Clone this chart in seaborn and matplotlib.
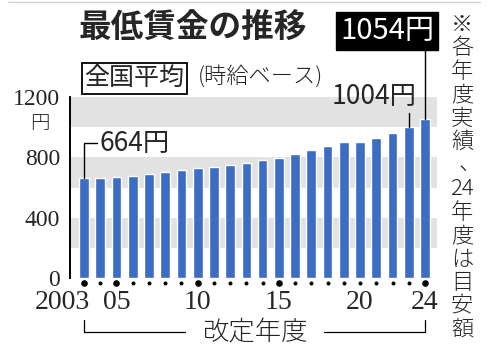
import matplotlib
matplotlib.use("Agg")
import matplotlib.pyplot as plt
import matplotlib.transforms as mtransforms
from matplotlib.lines import Line2D
import seaborn as sns
import pandas as pd

# national average minimum wage (yen/hour), revision year
years = list(range(2003, 2025))
wages = [664, 665, 668, 673, 687, 703, 713, 730, 737, 749, 764,
         780, 798, 823, 848, 874, 901, 902, 930, 961, 1004, 1054]
year_labels = {2003: "2003", 2005: "05", 2010: "10", 2015: "15", 2020: "20", 2024: "24"}
big_dots = [2003, 2005, 2010, 2015, 2024]
y_ticks = [0, 400, 800, 1200]
note = ["※", "各", "年", "度", "実", "績", "、", "24", "年", "度", "は", "目", "安", "額"]

BLUE = "#3c6cc4"
GREY = "#e2e2e2"
JP = ["Noto Sans CJK JP", "DejaVu Sans"]
SERIF = ["Liberation Serif", "DejaVu Serif"]

W, H = 500, 351


def px(x, y):
    return x / W, 1 - y / H


sns.set_style("white")
plt.rcParams["font.family"] = JP

df = pd.DataFrame({"year": [str(y) for y in years], "wage": wages})

fig = plt.figure(figsize=(W / 100, H / 100), dpi=100)
ax = fig.add_axes([70 / W, 1 - 278 / H, 367 / W, 181 / H])

for lo, hi in [(200, 400), (600, 800), (1000, 1200)]:
    ax.axhspan(lo, hi, color=GREY, lw=0, zorder=0)

sns.barplot(data=df, x="year", y="wage", color=BLUE, width=0.6,
            saturation=1, ax=ax, zorder=2)

ax.set_xlim(-0.862, 21.74)
ax.set_ylim(0, 1200)
ax.set_xlabel("")
ax.set_ylabel("")
ax.set_xticks([])
ax.set_yticks(y_ticks)
ax.set_yticklabels([str(t) for t in y_ticks], family=SERIF, fontsize=17)
ax.tick_params(axis="y", direction="out", length=6, width=1.3, color="black", pad=1)
for s in ["top", "right", "bottom"]:
    ax.spines[s].set_visible(False)
ax.spines["left"].set_color("black")
ax.spines["left"].set_linewidth(1.4)

# dots and year labels under the bars
trans = mtransforms.blended_transform_factory(ax.transData, ax.transAxes)
for i, y in enumerate(years):
    size = 14 if y in big_dots else 3.5
    ax.scatter([i], [-0.028], s=size, color="black", transform=trans, clip_on=False, zorder=3)
    if y in year_labels:
        ha = "right" if y == 2003 else "center"
        xx = i + 0.4 if y == 2003 else i
        ax.text(xx, -0.138, year_labels[y], transform=trans, ha=ha, va="center",
                family=SERIF, fontsize=20)

# bracket under the axis
n = len(years) - 1
bk = dict(color="black", lw=0.9, transform=trans, clip_on=False)
ax.plot([0, 0, 6.2], [-0.232, -0.298, -0.298], **bk)
ax.plot([14.8, n, n], [-0.298, -0.298, -0.232], **bk)
ax.text(n / 2, -0.298, "改定年度", transform=trans, ha="center", va="center",
        fontsize=19, fontweight="light")

# callouts
lab = dict(color="black", lw=1.0, clip_on=False, zorder=4)
ax.plot([0, 0, 0.8], [wages[0], 895, 895], **lab)
ax.text(0.95, 895, f"{wages[0]}円", ha="left", va="center", fontsize=19, clip_on=False)
ax.plot([n - 1, n - 1], [wages[-2], 1094], **lab)
fig.text(*px(417, 96), f"{wages[-2]}円", ha="right", va="center", fontsize=19)
ax.plot([n, n], [wages[-1], 1511], **lab)
fig.text(*px(387, 31), f"{wages[-1]}円", ha="center", va="center", fontsize=21,
         color="white", bbox=dict(boxstyle="square,pad=0.14", fc="black", ec="black"))

# y unit
fig.text(*px(40, 123), "円", ha="center", va="center", fontsize=14, fontweight="light")

# title block
fig.text(*px(79, 28), "最低賃金の推移", ha="left", va="center", fontsize=23.5, fontweight="bold")
fig.text(*px(84, 78), "全国平均", ha="left", va="center", fontsize=18,
         bbox=dict(boxstyle="square,pad=0.1", fc="white", ec="black", lw=1.3))
fig.text(*px(198, 76), "(時給ベース)", ha="left", va="center", fontsize=16, fontweight="light")

# vertical note on the right
for k, ch in enumerate(note):
    x, y = 462, 25 + k * 23.46
    if ch == "、":
        x, y = x + 8, y - 2
    fig.text(*px(x, y), ch, ha="center", va="center", fontsize=16, fontweight="light")

fig.add_artist(Line2D([8 / W, 480 / W], [1 - 1.5 / H] * 2, color="#d4d4d4", lw=1))

fig.savefig("out.png", dpi=100)
